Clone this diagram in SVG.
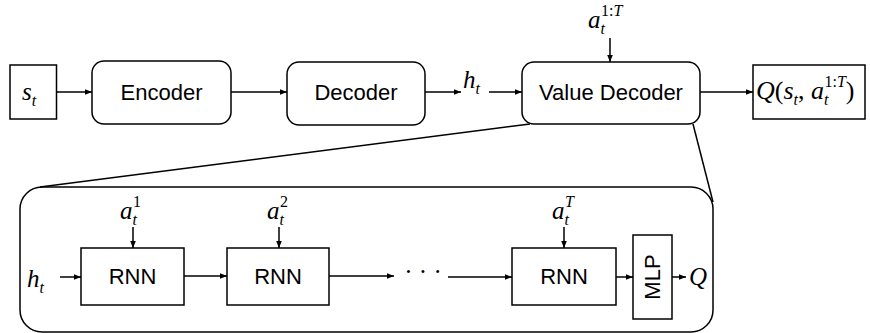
<svg xmlns="http://www.w3.org/2000/svg" width="870" height="333" viewBox="0 0 870 333">
<defs>
<marker id="ah" viewBox="0 0 10 10" refX="10" refY="5" markerWidth="7" markerHeight="7" markerUnits="userSpaceOnUse" orient="auto">
<path d="M0,1 L10,5 L0,9 z" fill="#000"/>
</marker>
<style>
.box{fill:#fff;stroke:#000;stroke-width:1.5}
.frame{fill:none;stroke:#000;stroke-width:1.5}
.lbl{font-family:"Liberation Sans",Arial,sans-serif;font-size:22px;fill:#000;text-anchor:middle}
.m{font-family:"Liberation Serif","Times New Roman",serif;font-style:italic;font-size:25px;fill:#000}
.s{font-size:16px}
.u{font-style:normal}
.c{fill:none;stroke:#000;stroke-width:1.5}
.a{fill:none;stroke:#000;stroke-width:1.5;marker-end:url(#ah)}
</style>
</defs>
<g id="expanded">
<rect class="frame" x="20" y="187" width="693" height="145" rx="22"/>
</g>
<g id="connectors">
<line class="a" x1="57" y1="92" x2="92" y2="92"/>
<line class="a" x1="231" y1="92" x2="287" y2="92"/>
<line class="a" x1="425" y1="92" x2="461" y2="92"/>
<line class="a" x1="489" y1="92" x2="522" y2="92"/>
<line class="a" x1="610" y1="38" x2="610" y2="62"/>
<line class="a" x1="700" y1="92" x2="753" y2="92"/>
<line class="c" x1="40" y1="187" x2="530" y2="124"/>
<line class="c" x1="693" y1="124" x2="713" y2="202"/>
<line class="a" x1="60" y1="277" x2="81" y2="277"/>
<line class="a" x1="133" y1="227" x2="133" y2="248"/>
<line class="a" x1="184" y1="276" x2="227" y2="276"/>
<line class="a" x1="279" y1="227" x2="279" y2="248"/>
<line class="a" x1="329" y1="276" x2="394" y2="276"/>
<line class="a" x1="448" y1="277" x2="512" y2="277"/>
<line class="a" x1="564" y1="227" x2="564" y2="248"/>
<line class="a" x1="616" y1="277" x2="633" y2="277"/>
<line class="a" x1="672" y1="277" x2="686" y2="277"/>
</g>
<g id="st">
<rect class="box" x="10" y="65" width="46.5" height="54"/>
<text class="m" x="22" y="100">s<tspan class="s" dy="6">t</tspan></text>
</g>
<g id="encoder">
<rect class="box" x="92" y="61" width="139" height="63" rx="12"/>
<text class="lbl" x="161.5" y="100">Encoder</text>
</g>
<g id="decoder">
<rect class="box" x="287" y="62" width="138" height="63" rx="12"/>
<text class="lbl" x="356" y="100">Decoder</text>
</g>
<g id="ht">
<text class="m" x="463" y="88">h<tspan class="s" dy="6">t</tspan></text>
</g>
<g id="a1T">
<text class="m" x="588" y="28">a<tspan class="s" dy="6">t</tspan><tspan class="s" dx="-4" dy="-18"><tspan class="u">1:</tspan>T</tspan></text>
</g>
<g id="value-decoder">
<rect class="box" x="522" y="62" width="178" height="62" rx="12"/>
<text class="lbl" x="611" y="100">Value Decoder</text>
</g>
<g id="qout">
<rect class="box" x="753" y="65" width="112" height="54"/>
<text class="m" x="756" y="99" style="font-size:26px">Q<tspan class="u">(</tspan>s<tspan class="s" dy="6">t</tspan><tspan class="u" dy="-6">, </tspan>a<tspan class="s" dy="6">t</tspan><tspan class="s" dx="-4" dy="-18"><tspan class="u">1:</tspan>T</tspan><tspan class="u" dy="12">)</tspan></text>
</g>
<g id="ht-in">
<text class="m" x="27" y="287">h<tspan class="s" dy="6">t</tspan></text>
</g>
<g id="a1">
<text class="m" x="120" y="219">a<tspan class="s" dy="6">t</tspan><tspan class="s u" dx="-4" dy="-18">1</tspan></text>
</g>
<g id="a2">
<text class="m" x="267" y="219">a<tspan class="s" dy="6">t</tspan><tspan class="s u" dx="-4" dy="-18">2</tspan></text>
</g>
<g id="aT">
<text class="m" x="552" y="219">a<tspan class="s" dy="6">t</tspan><tspan class="s" dx="-4" dy="-18">T</tspan></text>
</g>
<g id="rnn1">
<rect class="box" x="81" y="248" width="103" height="57"/>
<text class="lbl" x="132.5" y="284">RNN</text>
</g>
<g id="rnn2">
<rect class="box" x="227" y="248" width="102" height="57"/>
<text class="lbl" x="278" y="284">RNN</text>
</g>
<g id="dots">
<text class="m u" x="423" y="280" text-anchor="middle">· · ·</text>
</g>
<g id="rnn3">
<rect class="box" x="512" y="248" width="104" height="57"/>
<text class="lbl" x="564" y="284">RNN</text>
</g>
<g id="mlp">
<rect class="box" x="633" y="235" width="39" height="84"/>
<text class="lbl" transform="translate(660,277) rotate(-90)" x="0" y="0">MLP</text>
</g>
<g id="q">
<text class="m" x="689" y="285">Q</text>
</g>
</svg>
